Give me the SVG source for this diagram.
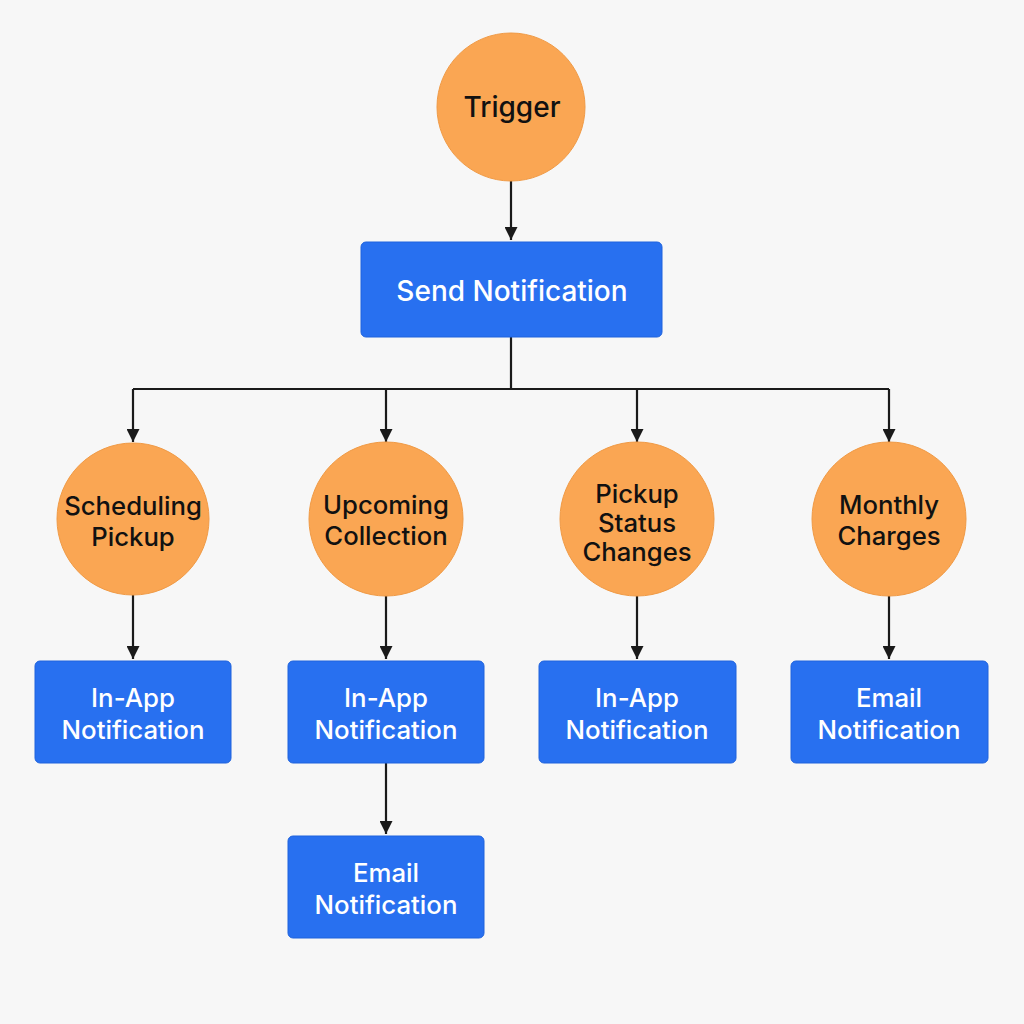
<svg xmlns="http://www.w3.org/2000/svg" width="1024" height="1024" viewBox="0 0 1024 1024">
<defs>
<marker id="ah" viewBox="0 0 10 10" refX="10" refY="5" markerWidth="13" markerHeight="13" markerUnits="userSpaceOnUse" orient="auto">
<path d="M0,0 L10,5 L0,10 z" fill="#1a1a1a"/>
</marker>
<style>
.c{fill:#FAA653;stroke:#F09A45;stroke-width:1}
.b{fill:#2870F0;stroke:#1F63DD;stroke-width:1}
.tc{font-family:Inter,"Noto Sans",sans-serif;font-size:25.7px;font-weight:500;fill:#111;text-anchor:middle}
.tb{font-family:Inter,"Noto Sans",sans-serif;font-size:25.8px;font-weight:500;fill:#fff;text-anchor:middle}
.ln{fill:none;stroke:#1a1a1a;stroke-width:2.2}
</style>
</defs>
<rect width="1024" height="1024" fill="#F7F7F7"/>
<g id="connectors">
<path class="ln" d="M511,181 V240" marker-end="url(#ah)"/>
<path class="ln" d="M511,337 V389 M133,389 H889"/>
<path class="ln" d="M133,389 V442" marker-end="url(#ah)"/>
<path class="ln" d="M386,389 V442" marker-end="url(#ah)"/>
<path class="ln" d="M637,389 V442" marker-end="url(#ah)"/>
<path class="ln" d="M889,389 V442" marker-end="url(#ah)"/>
<path class="ln" d="M133,595 V659" marker-end="url(#ah)"/>
<path class="ln" d="M386,595 V659" marker-end="url(#ah)"/>
<path class="ln" d="M637,595 V659" marker-end="url(#ah)"/>
<path class="ln" d="M889,595 V659" marker-end="url(#ah)"/>
<path class="ln" d="M386,763 V834" marker-end="url(#ah)"/>
</g>
<g id="trigger"><circle class="c" cx="511" cy="107" r="74"/><text class="tc" x="512" y="117" style="font-size:28px">Trigger</text></g>
<g id="send"><rect class="b" x="361" y="242" width="301" height="95" rx="5"/><text class="tb" x="512" y="301" style="font-size:28px">Send Notification</text></g>
<g id="scheduling"><circle class="c" cx="133" cy="519" r="76"/><text class="tc" x="133" y="515">Scheduling</text><text class="tc" x="133" y="546">Pickup</text></g>
<g id="upcoming"><circle class="c" cx="386" cy="519" r="77"/><text class="tc" x="386" y="514">Upcoming</text><text class="tc" x="386" y="545">Collection</text></g>
<g id="status"><circle class="c" cx="637" cy="519" r="77"/><text class="tc" x="637" y="503">Pickup</text><text class="tc" x="637" y="532">Status</text><text class="tc" x="637" y="561">Changes</text></g>
<g id="monthly"><circle class="c" cx="889" cy="519" r="77"/><text class="tc" x="889" y="514">Monthly</text><text class="tc" x="889" y="545">Charges</text></g>
<g id="inapp1"><rect class="b" x="35" y="661" width="196" height="102" rx="5"/><text class="tb" x="133" y="707">In-App</text><text class="tb" x="133" y="739">Notification</text></g>
<g id="inapp2"><rect class="b" x="288" y="661" width="196" height="102" rx="5"/><text class="tb" x="386" y="707">In-App</text><text class="tb" x="386" y="739">Notification</text></g>
<g id="inapp3"><rect class="b" x="539" y="661" width="197" height="102" rx="5"/><text class="tb" x="637" y="707">In-App</text><text class="tb" x="637" y="739">Notification</text></g>
<g id="email1"><rect class="b" x="791" y="661" width="197" height="102" rx="5"/><text class="tb" x="889" y="707">Email</text><text class="tb" x="889" y="739">Notification</text></g>
<g id="email2"><rect class="b" x="288" y="836" width="196" height="102" rx="5"/><text class="tb" x="386" y="882">Email</text><text class="tb" x="386" y="914">Notification</text></g>
</svg>
